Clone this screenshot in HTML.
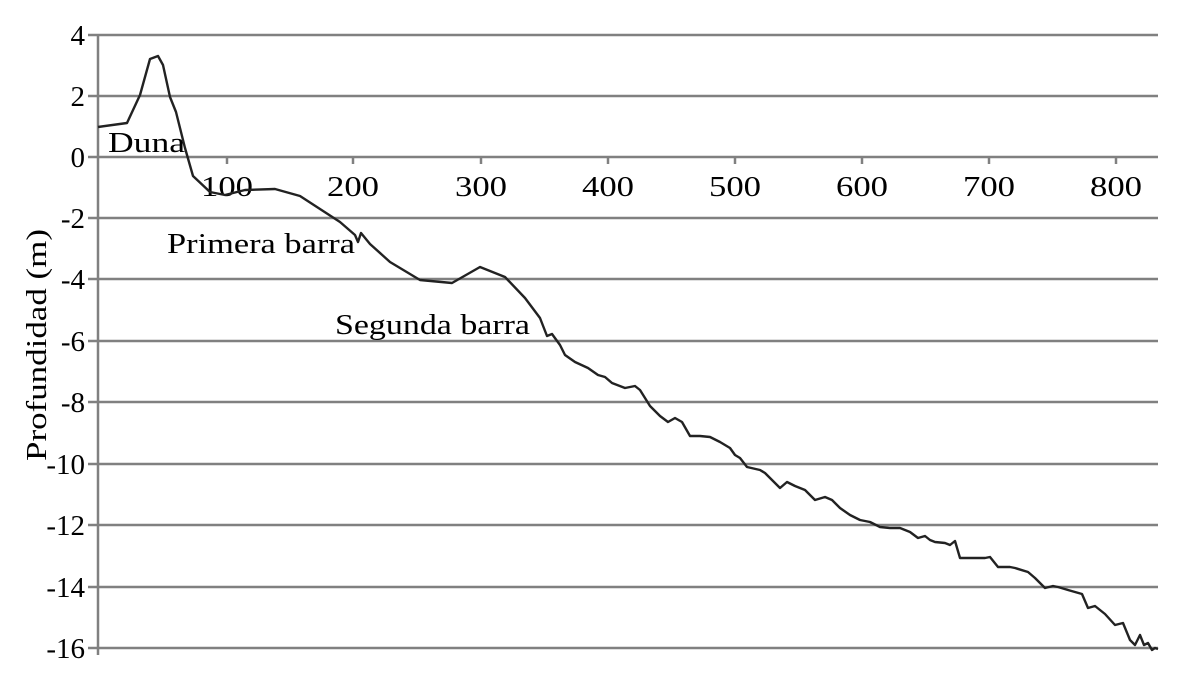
<!DOCTYPE html>
<html><head><style>body{margin:0;background:#fff}svg{display:block}</style></head><body>
<svg width="1179" height="689" xmlns="http://www.w3.org/2000/svg" font-family="Liberation Serif, serif" font-size="29">
<g stroke="#808080" stroke-width="2.5">
<line x1="88" y1="35" x2="1158" y2="35"/><line x1="88" y1="96" x2="1158" y2="96"/><line x1="88" y1="157" x2="1158" y2="157"/><line x1="88" y1="218" x2="1158" y2="218"/><line x1="88" y1="279" x2="1158" y2="279"/><line x1="88" y1="341" x2="1158" y2="341"/><line x1="88" y1="402" x2="1158" y2="402"/><line x1="88" y1="464" x2="1158" y2="464"/><line x1="88" y1="525" x2="1158" y2="525"/><line x1="88" y1="587" x2="1158" y2="587"/><line x1="88" y1="648" x2="1158" y2="648"/>
<line x1="98" y1="35" x2="98" y2="655"/>
<line x1="227" y1="157" x2="227" y2="164"/><line x1="353" y1="157" x2="353" y2="164"/><line x1="481" y1="157" x2="481" y2="164"/><line x1="608" y1="157" x2="608" y2="164"/><line x1="735" y1="157" x2="735" y2="164"/><line x1="862" y1="157" x2="862" y2="164"/><line x1="989" y1="157" x2="989" y2="164"/><line x1="1116" y1="157" x2="1116" y2="164"/>
</g>
<g text-anchor="end" fill="#000">
<text x="85" y="45">4</text><text x="85" y="106">2</text><text x="85" y="167">0</text><text x="85" y="228">-2</text><text x="85" y="289">-4</text><text x="85" y="351">-6</text><text x="85" y="412">-8</text><text x="85" y="474">-10</text><text x="85" y="535">-12</text><text x="85" y="597">-14</text><text x="85" y="658">-16</text>
</g>
<g fill="#000" lengthAdjust="spacingAndGlyphs">
<text x="201" y="196" textLength="52" lengthAdjust="spacingAndGlyphs">100</text><text x="327" y="196" textLength="52" lengthAdjust="spacingAndGlyphs">200</text><text x="455" y="196" textLength="52" lengthAdjust="spacingAndGlyphs">300</text><text x="582" y="196" textLength="52" lengthAdjust="spacingAndGlyphs">400</text><text x="709" y="196" textLength="52" lengthAdjust="spacingAndGlyphs">500</text><text x="836" y="196" textLength="52" lengthAdjust="spacingAndGlyphs">600</text><text x="963" y="196" textLength="52" lengthAdjust="spacingAndGlyphs">700</text><text x="1090" y="196" textLength="52" lengthAdjust="spacingAndGlyphs">800</text>
</g>
<text transform="translate(46,461) rotate(-90)" textLength="232" lengthAdjust="spacingAndGlyphs">Profundidad (m)</text>
<polyline fill="none" stroke="#222" stroke-width="2.4" stroke-linejoin="round" points="98,127 127,123 140,95 150,59 158,56 163,65 170,97 176,112 185,148 193,176 210,192 225,195 245,190 275,189 300,196 340,222 355,235 358,242 361,233 370,244 390,262 420,280 452,283 480,267 505,277 525,298 540,318 547,336 552,334 560,345 565,355 575,362 588,368 598,375 605,377 612,383 625,388 635,386 640,390 650,406 660,416 668,422 675,418 682,422 690,436 700,436 710,437 720,442 730,448 735,455 740,458 747,467 760,470 765,473 780,488 787,482 795,486 805,490 815,500 825,497 832,500 840,508 850,515 860,520 870,522 880,527 890,528 900,528 910,532 918,538 925,536 930,540 935,542 945,543 950,545 955,541 960,558 985,558 990,557 998,567 1010,567 1015,568 1028,572 1035,578 1045,588 1053,586 1058,587 1068,590 1082,594 1088,608 1095,606 1105,614 1115,625 1123,623 1130,640 1135,645 1140,635 1144,645 1148,643 1152,650 1155,648 1158,649"/>
<text x="108" y="152" textLength="77" lengthAdjust="spacingAndGlyphs">Duna</text>
<text x="167" y="253" textLength="188" lengthAdjust="spacingAndGlyphs">Primera barra</text>
<text x="335" y="334" textLength="195" lengthAdjust="spacingAndGlyphs">Segunda barra</text>
</svg>
</body></html>
